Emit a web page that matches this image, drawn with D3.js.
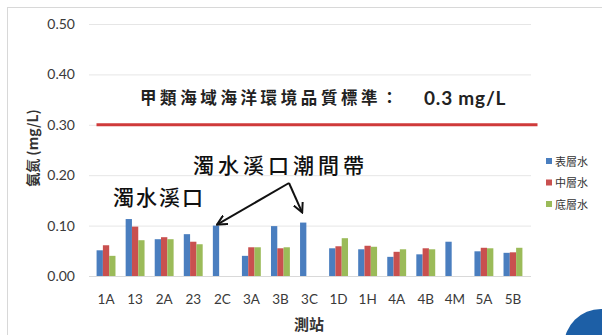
<!DOCTYPE html>
<html>
<head>
<meta charset="utf-8">
<script src="https://cdn.jsdelivr.net/npm/d3@7"></script>
<style>
  html, body { margin: 0; padding: 0; background: #fff; }
  svg { display: block; }
</style>
</head>
<body>
<svg id="chart" width="602" height="335"></svg>
<script>
// Stations along the x axis
const stations = ["1A","13","2A","23","2C","3A","3B","3C","1D","1H","4A","4B","4M","5A","5B"];
// Ammonia-nitrogen (mg/L) by depth layer; null = not sampled
const surface = [0.051,0.113,0.073,0.083,0.100,0.040,0.099,0.106,0.055,0.053,0.038,0.043,0.068,0.049,0.046];
const middle  = [0.061,0.098,0.077,0.068,null, 0.057,0.055,null, 0.059,0.060,0.048,0.055,null, 0.056,0.047];
const bottom  = [0.040,0.071,0.073,0.063,null, 0.057,0.057,null, 0.075,0.058,0.053,0.053,null, 0.055,0.056];
const seriesNames = ["表層水","中層水","底層水"];
const seriesColors = ["#4a7ebf","#c9504f","#9bbb59"];
const yTicks = [0, 0.1, 0.2, 0.3, 0.4, 0.5];
// Class-A marine water quality standard
const standard = 0.3;

const svg = d3.select("#chart");
const W = 602, H = 335;

svg.append("rect").attr("width", W).attr("height", H).attr("fill", "#fff");
// outer frame
svg.append("rect").attr("x", 7.5).attr("y", 7.5).attr("width", 640).attr("height", 360)
  .attr("fill", "none").attr("stroke", "#d8d8d8").attr("stroke-width", 1);

const x0 = d3.scaleBand().domain(stations).range([91.5, 527.5])
  .paddingInner(0.35).paddingOuter(0.175);
const x1 = d3.scaleBand().domain(seriesNames).range([0, x0.bandwidth()]);
const y = d3.scaleLinear().domain([0, 0.5]).range([276, 24]);

// gridlines
svg.append("g").selectAll("line").data(yTicks.slice(1)).join("line")
  .attr("x1", 89).attr("x2", 531)
  .attr("y1", d => y(d) + 0.5).attr("y2", d => y(d) + 0.5)
  .attr("stroke", "#e6e6e6").attr("stroke-width", 1);

// y axis labels
const yAxis = d3.axisLeft(y).tickValues(yTicks).tickFormat(d3.format(".2f")).tickSize(0).tickPadding(0);
const gy = svg.append("g").attr("transform", "translate(75,0)").call(yAxis);
gy.select(".domain").remove();
gy.selectAll("text").attr("font-family", "Lato, 'Liberation Sans', sans-serif")
  .attr("font-size", 14).attr("fill", "#3a3a3a");

// baseline + x labels
const xAxis = d3.axisBottom(x0).tickSize(0).tickPadding(18);
const gx = svg.append("g").attr("transform", `translate(0,${y(0)})`).call(xAxis);
gx.select(".domain").attr("stroke", "#d9d9d9").attr("d", `M89,0.5H531`);
gx.selectAll("text").attr("font-family", "Lato, 'Liberation Sans', sans-serif")
  .attr("font-size", 13.5).attr("fill", "#3a3a3a");

// bars
const layers = [surface, middle, bottom];
const rows = [];
stations.forEach((s, i) => layers.forEach((arr, k) => {
  if (arr[i] != null) rows.push({ s, k, v: arr[i] });
}));
svg.append("g").selectAll("rect").data(rows).join("rect")
  .attr("x", d => x0(d.s) + x1(seriesNames[d.k]))
  .attr("width", x1.bandwidth())
  .attr("y", d => y(d.v))
  .attr("height", d => y(0) - y(d.v))
  .attr("fill", d => seriesColors[d.k]);

// standard line
svg.append("line")
  .attr("x1", x0.range()[0] + 5).attr("x2", x0.range()[1] + 10)
  .attr("y1", y(standard)).attr("y2", y(standard))
  .attr("stroke", "#cf3a3a").attr("stroke-width", 3);

svg.append("text").attr("x", 140).attr("y", 104)
  .attr("font-family", "'Noto Sans CJK TC', sans-serif").attr("font-weight", 700)
  .attr("font-size", 16.5).attr("letter-spacing", 3.6).attr("fill", "#222")
  .text("甲類海域海洋環境品質標準：");
svg.append("text").attr("x", 424).attr("y", 104.5)
  .attr("font-family", "Lato, 'Liberation Sans', sans-serif").attr("font-weight", 700)
  .attr("font-size", 19).attr("letter-spacing", 0.8).attr("fill", "#222")
  .text("0.3 mg/L");

// annotations
svg.append("text").attr("x", 193).attr("y", 173)
  .attr("font-family", "'Noto Sans CJK TC', sans-serif").attr("font-weight", 500)
  .attr("font-size", 21).attr("letter-spacing", 4).attr("fill", "#111")
  .text("濁水溪口潮間帶");
svg.append("text").attr("x", 113).attr("y", 205)
  .attr("font-family", "'Noto Sans CJK TC', sans-serif").attr("font-weight", 500)
  .attr("font-size", 21).attr("letter-spacing", 2).attr("fill", "#111")
  .text("濁水溪口");

const defs = svg.append("defs");
defs.append("marker").attr("id", "ah").attr("viewBox", "0 0 10 10")
  .attr("refX", 9).attr("refY", 5).attr("markerWidth", 11).attr("markerHeight", 11)
  .attr("markerUnits", "userSpaceOnUse").attr("orient", "auto")
  .append("path").attr("d", "M0,0.5 L9,5 L0,9.5").attr("fill", "none")
  .attr("stroke", "#111").attr("stroke-width", 1.8);

const apex = [289, 183];
const barTop = (s, k) => [x0(s) + x1(seriesNames[k]) + x1.bandwidth() / 2 + 1,
                          y(layers[k][stations.indexOf(s)]) - 1];
const t2c = barTop("2C", 0), t3c = barTop("3C", 0);
[[apex, t2c], [apex, [t3c[0] - 2, t3c[1] - 9]]].forEach(([a, b]) => {
  svg.append("line").attr("x1", a[0]).attr("y1", a[1]).attr("x2", b[0]).attr("y2", b[1])
    .attr("stroke", "#111").attr("stroke-width", 2).attr("marker-end", "url(#ah)");
});

// axis titles
svg.append("text").attr("transform", "translate(38,148) rotate(-90)")
  .attr("text-anchor", "middle")
  .attr("font-family", "'Noto Sans CJK TC', sans-serif").attr("font-weight", 700)
  .attr("font-size", 14).attr("fill", "#333").text("氨氮 (mg/L)");
svg.append("text").attr("x", 309).attr("y", 330).attr("text-anchor", "middle")
  .attr("font-family", "'Noto Sans CJK TC', sans-serif").attr("font-weight", 700)
  .attr("font-size", 15).attr("fill", "#333").text("測站");

// legend
const lg = svg.append("g").attr("transform", "translate(546,161)");
seriesNames.forEach((n, i) => {
  const g = lg.append("g").attr("transform", `translate(0,${i * 21.5})`);
  g.append("rect").attr("x", 0).attr("y", -3).attr("width", 6).attr("height", 6).attr("fill", seriesColors[i]);
  g.append("text").attr("x", 9).attr("y", 4.5)
    .attr("font-family", "'Noto Sans CJK TC', sans-serif").attr("font-size", 11)
    .attr("fill", "#333").text(n);
});

// page badge
svg.append("circle").attr("cx", 601).attr("cy", 346).attr("r", 37).attr("fill", "#1d5fa6");
</script>
</body>
</html>
